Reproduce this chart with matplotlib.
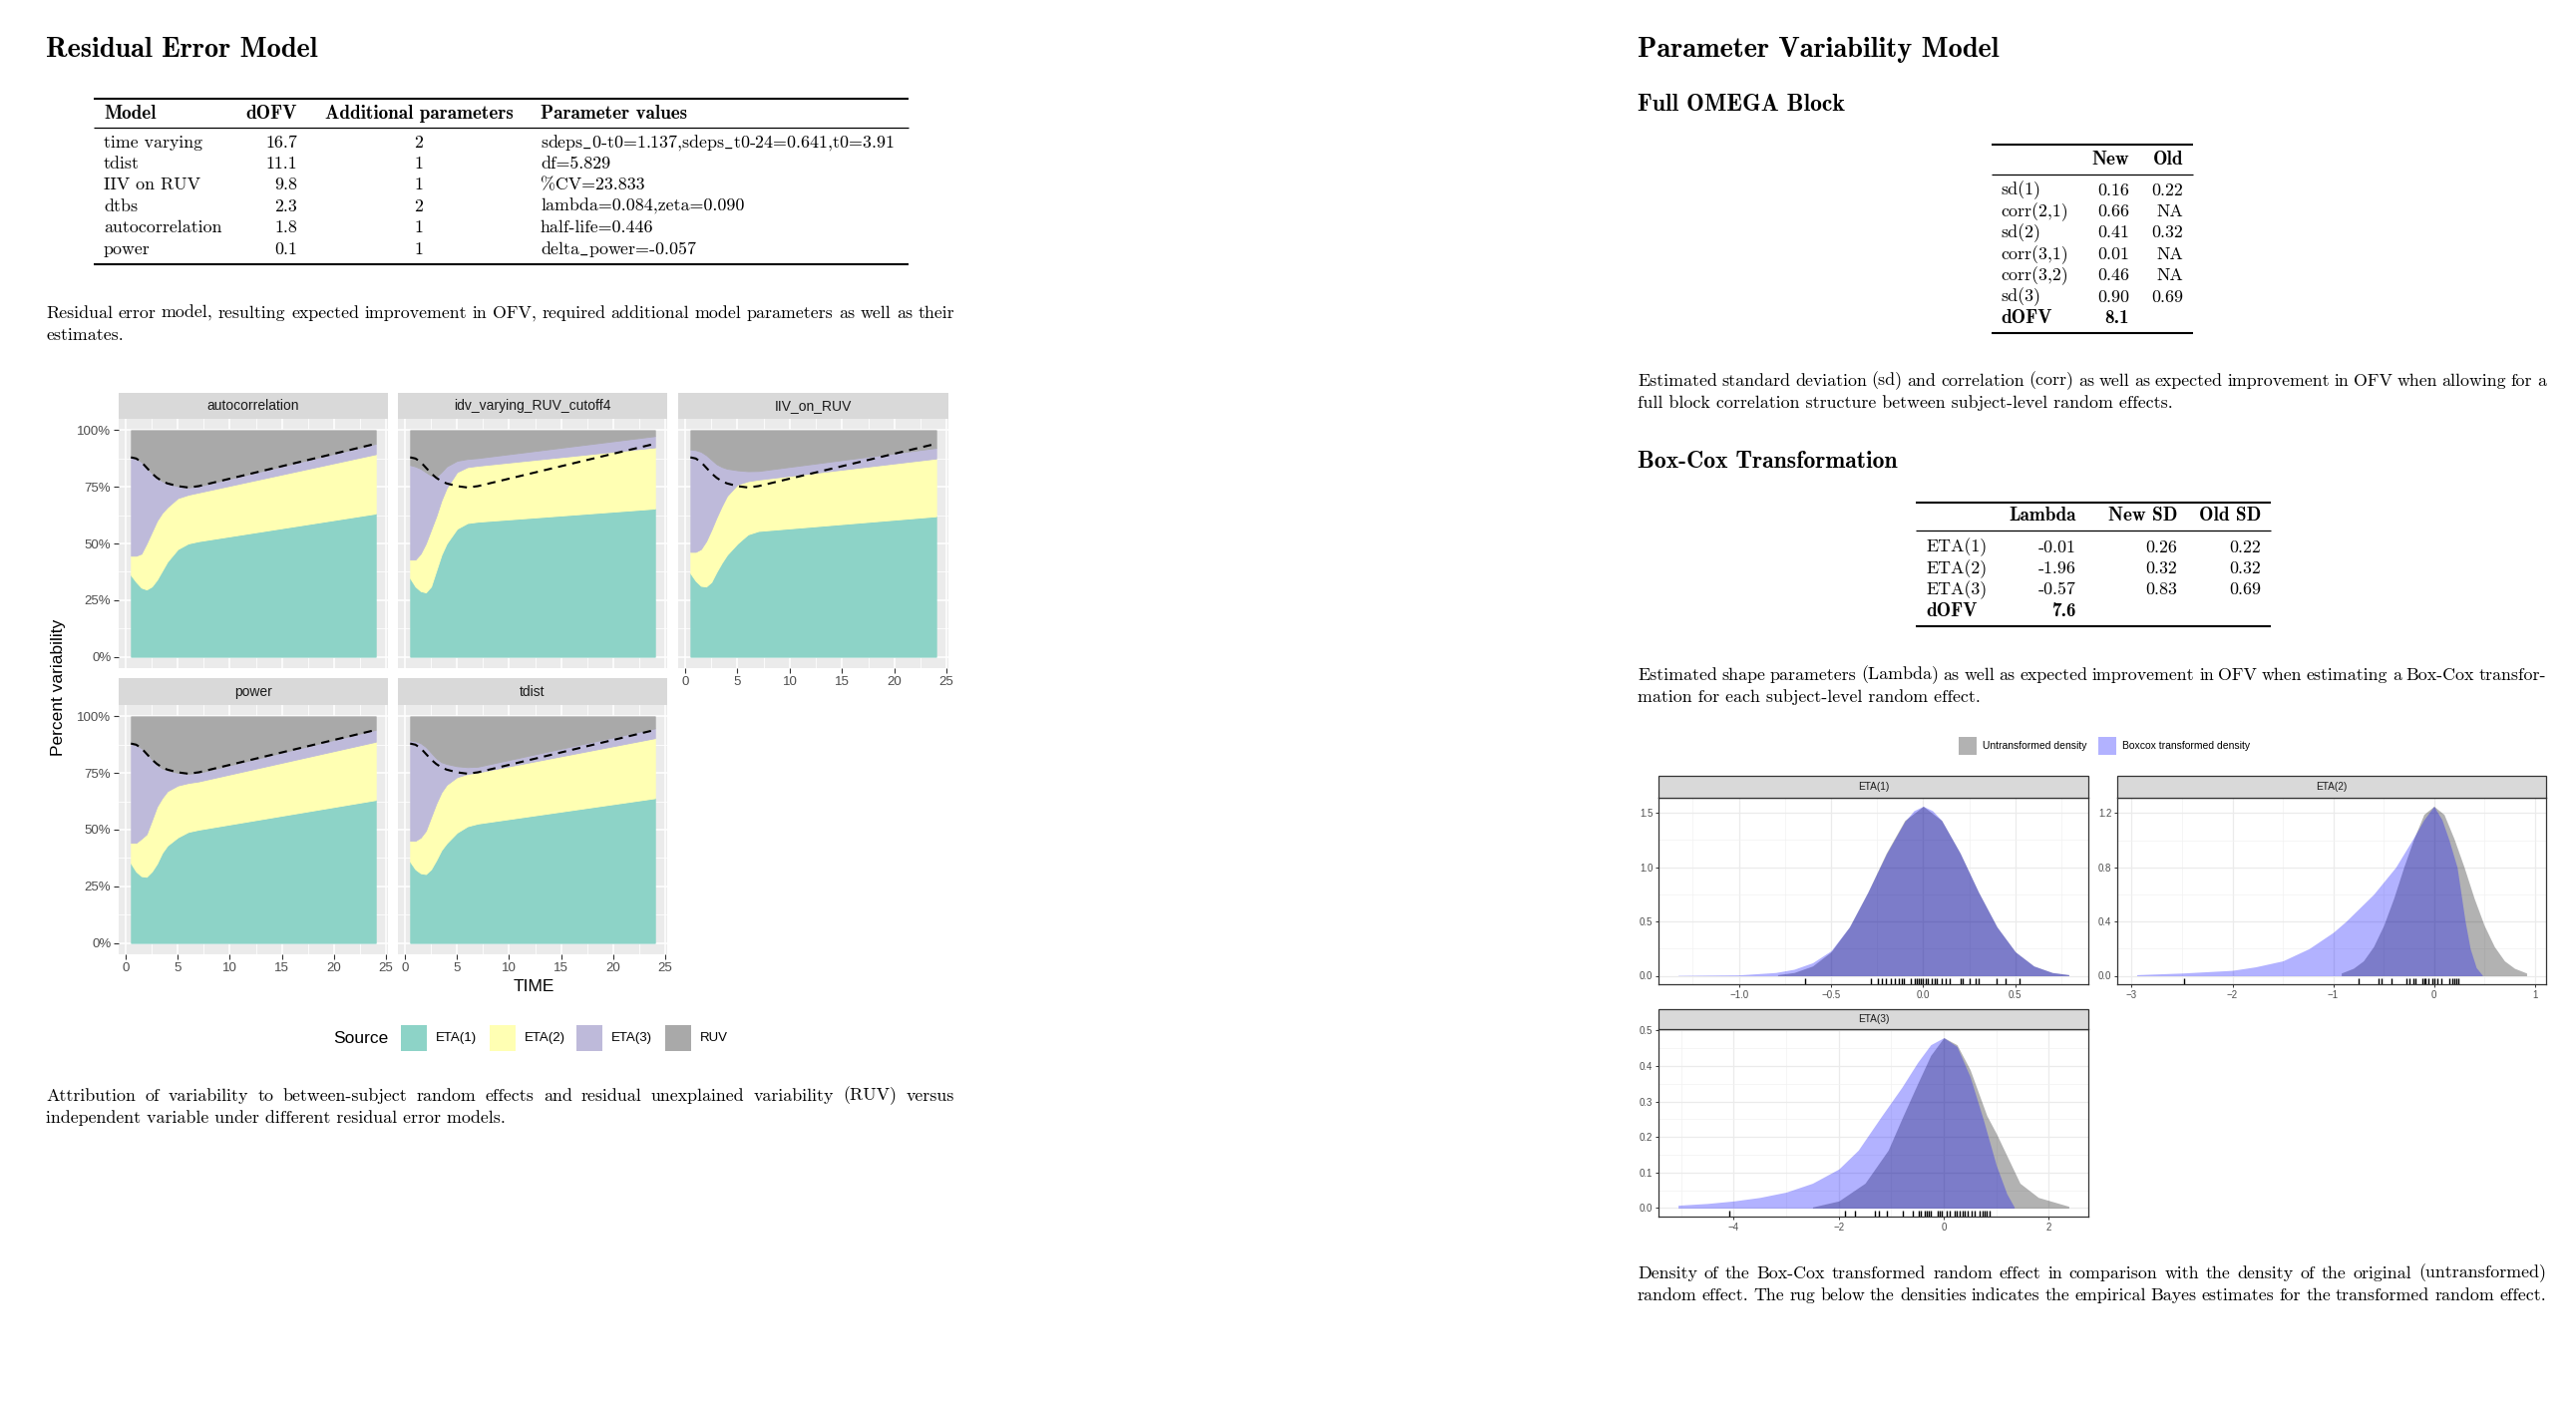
import matplotlib
matplotlib.use("Agg")
import matplotlib.pyplot as plt
import matplotlib.transforms as mtransforms
import numpy as np
from matplotlib.lines import Line2D
from matplotlib.patches import Rectangle

# page-like report: residual error tables/areas on the left, parameter variability on the right
W, H, DPI = 2583, 1424, 100

plt.rcParams["mathtext.fontset"] = "cm"

ROMAN = ["cmr10", "DejaVu Serif"]
BOLD = ["cmb10", "DejaVu Serif"]
SANS = ["Liberation Sans", "DejaVu Sans"]
BODY = 12.9
BODY_BOLD = 13.8

# ---------------- table data ----------------
RESID_MODELS = ["time varying", "tdist", "IIV on RUV", "dtbs", "autocorrelation", "power"]
RESID_DOFV = ["16.7", "11.1", "9.8", "2.3", "1.8", "0.1"]
RESID_NPAR = ["2", "1", "1", "2", "1", "1"]
RESID_VALUES = [
    r"sdeps$\_$0-t0=1.137,sdeps$\_$t0-24=0.641,t0=3.91",
    "df=5.829",
    "%CV=23.833",
    "lambda=0.084,zeta=0.090",
    "half-life=0.446",
    r"delta$\_$power=-0.057",
]

OMEGA_ROWS = ["sd(1)", "corr(2,1)", "sd(2)", "corr(3,1)", "corr(3,2)", "sd(3)"]
OMEGA_NEW = ["0.16", "0.66", "0.41", "0.01", "0.46", "0.90"]
OMEGA_OLD = ["0.22", "NA", "0.32", "NA", "NA", "0.69"]
OMEGA_DOFV = "8.1"

BOXCOX_ETAS = ["ETA(1)", "ETA(2)", "ETA(3)"]
BOXCOX_LAMBDA = ["-0.01", "-1.96", "-0.57"]
BOXCOX_NEW_SD = ["0.26", "0.32", "0.83"]
BOXCOX_OLD_SD = ["0.22", "0.32", "0.69"]
BOXCOX_DOFV = "7.6"

# ---------------- variability attribution (percent, cumulative tops of ETA1, ETA1+2, ETA1+2+3) ----------------
TIME = [0.5, 1, 1.5, 2, 2.5, 3, 3.5, 4, 5, 6, 7, 24]
SOURCES = ["ETA(1)", "ETA(2)", "ETA(3)", "RUV"]

AUTOCORR_ETA1 = [36, 33, 30.5, 29.7, 31, 34, 38, 42, 47.5, 50, 51, 63.2]
AUTOCORR_ETA2 = [44.6, 44.6, 45.5, 50, 55, 60, 63.5, 66, 70, 71.5, 72.5, 89.4]
AUTOCORR_ETA3 = [88, 87.5, 86, 83.5, 81, 79, 77.5, 76.5, 75.3, 74.7, 75.3, 94]

IDV_ETA1 = [34.6, 31, 29, 28.4, 31, 38, 45, 50, 56.5, 59, 59.6, 65.4]
IDV_ETA2 = [42.9, 42.9, 45.5, 50, 56, 62, 69, 74.5, 81.5, 83.7, 84.3, 92.4]
IDV_ETA3 = [84.6, 84, 83, 81.5, 80, 79.4, 81.5, 84, 86.5, 87.3, 87.7, 97.4]

IIV_ETA1 = [36.8, 33.5, 31.3, 31, 33, 37.5, 41.5, 45, 50, 54, 55.5, 62]
IIV_ETA2 = [46.3, 46.3, 47.5, 51, 56, 61.5, 66.5, 71, 76, 77.5, 78.2, 87.5]
IIV_ETA3 = [91.5, 91.2, 90.5, 89, 87, 85, 83.8, 83, 82.3, 81.9, 82, 92.2]

POWER_ETA1 = [35.1, 31.5, 29.5, 29.2, 31.5, 35, 39.8, 43, 46.6, 49, 50, 63.1]
POWER_ETA2 = [44.2, 44.2, 46, 48, 54, 60.2, 64, 67, 69.5, 70.6, 71.3, 88.8]
POWER_ETA3 = [87.9, 87.3, 86, 84, 81, 78.6, 77, 76.2, 75.1, 74.7, 75.1, 94.1]

TDIST_ETA1 = [35.8, 32.5, 30.8, 30.4, 32.5, 36.5, 41, 44, 48.7, 51.5, 52.7, 63.9]
TDIST_ETA2 = [45.1, 45.1, 46.5, 49.5, 55.5, 61.5, 66.5, 69.8, 73.2, 74.6, 75.3, 90.4]
TDIST_ETA3 = [89.4, 89, 88.2, 86.5, 84, 81.5, 79.8, 79, 78, 77.6, 77.8, 94.7]

# total between-subject share of the original model (dashed reference line)
REF_TOTAL = [88, 87.5, 86, 83.5, 81, 79, 77.5, 76.5, 75.3, 74.7, 75.3, 94]

# ---------------- Box-Cox densities ----------------
ETA1_UNTR_X = [-0.79, -0.7, -0.6, -0.5, -0.4, -0.3, -0.2, -0.1, 0.0, 0.1, 0.2, 0.3, 0.4, 0.5, 0.6, 0.7, 0.79]
ETA1_UNTR_Y = [0.01, 0.03, 0.09, 0.22, 0.45, 0.77, 1.13, 1.43, 1.56, 1.43, 1.13, 0.77, 0.45, 0.22, 0.09, 0.03, 0.01]
ETA1_BC_X = [-1.33, -1.0, -0.8, -0.7, -0.6, -0.5, -0.4, -0.3, -0.2, -0.1, -0.05, 0.0, 0.05, 0.1, 0.2, 0.3, 0.4, 0.5, 0.6, 0.7, 0.79]
ETA1_BC_Y = [0.003, 0.008, 0.03, 0.06, 0.12, 0.23, 0.45, 0.77, 1.12, 1.42, 1.52, 1.56, 1.52, 1.43, 1.13, 0.77, 0.45, 0.22, 0.09, 0.03, 0.01]
ETA1_RUG = [-0.64, -0.284, -0.243, -0.225, -0.203, -0.176, -0.156, -0.13, -0.116, -0.103, -0.067, -0.043,
            -0.034, -0.024, -0.013, -0.002, 0.014, 0.024, 0.047, 0.062, 0.076, 0.101, 0.12, 0.143, 0.205,
            0.216, 0.25, 0.286, 0.303, 0.4, 0.446, 0.52]

ETA2_UNTR_X = [-0.92, -0.8, -0.7, -0.6, -0.5, -0.4, -0.3, -0.2, -0.1, 0.0, 0.1, 0.2, 0.3, 0.4, 0.5, 0.6, 0.7, 0.8, 0.92]
ETA2_UNTR_Y = [0.02, 0.055, 0.11, 0.215, 0.37, 0.57, 0.80, 1.01, 1.19, 1.25, 1.19, 1.01, 0.80, 0.57, 0.37, 0.215, 0.11, 0.055, 0.02]
ETA2_BC_X = [-2.95, -2.5, -2.0, -1.77, -1.5, -1.24, -1.0, -0.875, -0.6, -0.38, -0.2, -0.1, 0.0, 0.08, 0.15, 0.23, 0.31, 0.36, 0.42, 0.48]
ETA2_BC_Y = [0.008, 0.02, 0.04, 0.066, 0.11, 0.2, 0.32, 0.4, 0.6, 0.8, 1.02, 1.15, 1.25, 1.15, 1.0, 0.8, 0.4, 0.2, 0.06, 0.005]
ETA2_RUG = [-2.48, -0.743, -0.55, -0.52, -0.42, -0.27, -0.245, -0.206, -0.186, -0.113, -0.096, -0.08,
            -0.053, -0.02, 0.003, 0.036, 0.07, 0.153, 0.18, 0.2, 0.226, 0.245]

ETA3_UNTR_X = [-2.5, -2.0, -1.5, -1.06, -0.78, -0.5, -0.25, 0.0, 0.25, 0.5, 0.82, 1.0, 1.45, 1.8, 2.38]
ETA3_UNTR_Y = [0.003, 0.02, 0.07, 0.163, 0.258, 0.35, 0.43, 0.48, 0.46, 0.39, 0.26, 0.21, 0.07, 0.03, 0.005]
ETA3_BC_X = [-5.06, -4.5, -4.0, -3.5, -3.0, -2.5, -2.0, -1.63, -1.19, -0.8, -0.5, -0.25, 0.0, 0.25, 0.5, 0.75, 1.0, 1.2, 1.34]
ETA3_BC_Y = [0.008, 0.013, 0.02, 0.03, 0.045, 0.07, 0.11, 0.163, 0.258, 0.34, 0.41, 0.46, 0.48, 0.455, 0.37, 0.25, 0.12, 0.04, 0.003]
ETA3_RUG = [-4.09, -1.88, -1.69, -1.31, -1.24, -1.09, -0.785, -0.59, -0.48, -0.43, -0.36, -0.32, -0.285,
            -0.25, -0.11, -0.07, -0.03, 0.057, 0.114, 0.215, 0.25, 0.3, 0.35, 0.4, 0.46, 0.525, 0.59, 0.68,
            0.73, 0.77, 0.82, 0.87]

AREA_COLORS = ["#8DD3C7", "#FFFFB3", "#BEBADA", "#A9A9A9"]


def fx(x):
    return x / W


def fy(y):
    return 1 - y / H


def add_axes_px(fig, x0, y0, x1, y1):
    return fig.add_axes([fx(x0), fy(y1), (x1 - x0) / W, (y1 - y0) / H])


def ptext(fig, x, y, s, bold=False, size=None, ha="left", va="center"):
    if size is None:
        size = BODY_BOLD if bold else BODY
    return fig.text(fx(x), fy(y), s, family=BOLD if bold else ROMAN, fontsize=size, ha=ha, va=va)


def hrule(fig, x0, x1, y, lw):
    fig.add_artist(Line2D([fx(x0), fx(x1)], [fy(y), fy(y)], transform=fig.transFigure,
                          color="black", lw=lw, solid_capstyle="butt"))


def justified(fig, line, x0, x1, y, size=BODY):
    renderer = fig.canvas.get_renderer()
    words = line.split()
    texts = [fig.text(0, fy(y), w, family=ROMAN, fontsize=size, va="center") for w in words]
    widths = [t.get_window_extent(renderer).width for t in texts]
    gap = (x1 - x0 - sum(widths)) / max(len(words) - 1, 1)
    x = x0
    for t, w in zip(texts, widths):
        t.set_x(fx(x))
        x += w + gap


def caption(fig, lines, x0, x1, y0, step=22.5, last_full=False):
    for i, line in enumerate(lines):
        y = y0 + i * step
        if i < len(lines) - 1 or last_full:
            justified(fig, line, x0, x1, y)
        else:
            ptext(fig, x0, y, line)


def strip(fig, x0, x1, y0, y1, label, size, edge=None):
    fig.add_artist(Rectangle((fx(x0), fy(y1)), (x1 - x0) / W, (y1 - y0) / H, transform=fig.transFigure,
                             facecolor="#D9D9D9", edgecolor=edge if edge else "none", lw=0.9))
    fig.text(fx((x0 + x1) / 2), fy((y0 + y1) / 2), label, family=SANS, fontsize=size,
             color="#1A1A1A", ha="center", va="center")


fig = plt.figure(figsize=(W / DPI, H / DPI), dpi=DPI)
fig.patch.set_facecolor("white")

# ======================= LEFT: Residual Error Model =======================
ptext(fig, 46, 50, "Residual Error Model", bold=True, size=20.4)

hrule(fig, 94, 911, 99, 1.5)
hrule(fig, 94, 911, 128, 0.9)
hrule(fig, 94, 911, 265, 1.5)
ptext(fig, 104, 114, "Model", bold=True)
ptext(fig, 298, 114, "dOFV", bold=True, ha="right")
ptext(fig, 420, 114, "Additional parameters", bold=True, ha="center")
ptext(fig, 542, 114, "Parameter values", bold=True)
for i, (m, d, n, v) in enumerate(zip(RESID_MODELS, RESID_DOFV, RESID_NPAR, RESID_VALUES)):
    y = 143 + 21.4 * i
    ptext(fig, 104, y, m)
    ptext(fig, 298, y, d, ha="right")
    ptext(fig, 420, y, n, ha="center")
    ptext(fig, 542, y, v)

caption(fig, ["Residual error model, resulting expected improvement in OFV, required additional model parameters as well as their",
              "estimates."], 46, 957, 314)

# facet panels
FACET_COLS = [(119, 389), (399, 669), (680, 951)]
FACET_ROWS = [(394, 420, 670), (680, 707, 957)]
FACETS = [
    ("autocorrelation", [AUTOCORR_ETA1, AUTOCORR_ETA2, AUTOCORR_ETA3], 0, 0),
    ("idv_varying_RUV_cutoff4", [IDV_ETA1, IDV_ETA2, IDV_ETA3], 0, 1),
    ("IIV_on_RUV", [IIV_ETA1, IIV_ETA2, IIV_ETA3], 0, 2),
    ("power", [POWER_ETA1, POWER_ETA2, POWER_ETA3], 1, 0),
    ("tdist", [TDIST_ETA1, TDIST_ETA2, TDIST_ETA3], 1, 1),
]
x_axis_panels = {"IIV_on_RUV", "power", "tdist"}

for name, tops, r, c in FACETS:
    x0, x1 = FACET_COLS[c]
    s0, p0, p1 = FACET_ROWS[r]
    ax = add_axes_px(fig, x0, p0, x1, p1)
    ax.set_facecolor("#EBEBEB")
    cum = np.vstack([np.zeros(len(TIME)), np.array(tops, dtype=float), np.full(len(TIME), 100.0)])
    shares = np.diff(cum, axis=0)
    polys = ax.stackplot(TIME, shares, colors=AREA_COLORS, labels=SOURCES, zorder=2)
    for p, col in zip(polys, AREA_COLORS):
        p.set_edgecolor(col)
        p.set_linewidth(0.6)
    ax.plot(TIME, REF_TOTAL, color="black", lw=1.5, ls=(0, (4, 3)), zorder=3)

    ax.set_xticks(range(0, 26, 5))
    ax.set_xticks(np.arange(2.5, 25, 5), minor=True)
    ax.set_yticks([0, 25, 50, 75, 100])
    ax.set_yticks([12.5, 37.5, 62.5, 87.5], minor=True)
    ax.set_yticklabels(["0%", "25%", "50%", "75%", "100%"])
    span = TIME[-1] - TIME[0]
    ax.set_xlim(TIME[0] - 0.05 * span, TIME[-1] + 0.05 * span)
    ax.set_ylim(-5, 105)
    ax.set_axisbelow(True)
    ax.grid(which="major", color="white", lw=1.1)
    ax.grid(which="minor", color="white", lw=0.55)
    for sp in ax.spines.values():
        sp.set_visible(False)
    ax.tick_params(which="minor", length=0)
    ax.tick_params(which="major", length=3.5, width=0.8, color="#333333", labelsize=9.5,
                   labelcolor="#4D4D4D", pad=2)
    for lab in ax.get_xticklabels() + ax.get_yticklabels():
        lab.set_family(SANS)
    if c != 0:
        ax.tick_params(axis="y", left=False, labelleft=False)
    if name not in x_axis_panels:
        ax.tick_params(axis="x", bottom=False, labelbottom=False)
    strip(fig, x0, x1, s0, p0, name, 10)

fig.text(fx(59), fy(689), "Percent variability", family=SANS, fontsize=12.5, rotation=90,
         ha="center", va="center", color="black")
fig.text(fx(535), fy(990), "TIME", family=SANS, fontsize=12.5, ha="center", va="center", color="black")

# legend
fig.text(fx(334), fy(1041), "Source", family=SANS, fontsize=12.5, ha="left", va="center")
for bx, lab, col in zip([402, 491, 578, 667], SOURCES, AREA_COLORS):
    fig.add_artist(Rectangle((fx(bx), fy(1054)), 26 / W, 26 / H, transform=fig.transFigure,
                             facecolor=col, edgecolor="none"))
    fig.text(fx(bx + 35), fy(1041), lab, family=SANS, fontsize=9.5, ha="left", va="center")

caption(fig, ["Attribution of variability to between-subject random effects and residual unexplained variability (RUV) versus",
              "independent variable under different residual error models."], 46, 957, 1099)

# ======================= RIGHT: Parameter Variability Model =======================
ptext(fig, 1642, 50, "Parameter Variability Model", bold=True, size=20.4)
ptext(fig, 1642, 105, "Full OMEGA Block", bold=True, size=17.1)

hrule(fig, 1997, 2199, 145, 1.5)
hrule(fig, 1997, 2199, 175, 0.9)
hrule(fig, 1997, 2199, 334, 1.5)
ptext(fig, 2135, 160, "New", bold=True, ha="right")
ptext(fig, 2189, 160, "Old", bold=True, ha="right")
for i, (lab, new, old) in enumerate(zip(OMEGA_ROWS, OMEGA_NEW, OMEGA_OLD)):
    y = 191 + 21.4 * i
    ptext(fig, 2006, y, lab)
    ptext(fig, 2135, y, new, ha="right")
    ptext(fig, 2189, y, old, ha="right")
ptext(fig, 2006, 191 + 21.4 * 6, "dOFV", bold=True)
ptext(fig, 2135, 191 + 21.4 * 6, OMEGA_DOFV, bold=True, ha="right")

caption(fig, ["Estimated standard deviation (sd) and correlation (corr) as well as expected improvement in OFV when allowing for a",
              "full block correlation structure between subject-level random effects."], 1642, 2553, 382)

ptext(fig, 1642, 463, "Box-Cox Transformation", bold=True, size=17.1)
hrule(fig, 1921, 2277, 504, 1.5)
hrule(fig, 1921, 2277, 532, 0.9)
hrule(fig, 1921, 2277, 628, 1.5)
ptext(fig, 2082, 517, "Lambda", bold=True, ha="right")
ptext(fig, 2183, 517, "New SD", bold=True, ha="right")
ptext(fig, 2267, 517, "Old SD", bold=True, ha="right")
for i, (lab, lam, new, old) in enumerate(zip(BOXCOX_ETAS, BOXCOX_LAMBDA, BOXCOX_NEW_SD, BOXCOX_OLD_SD)):
    y = 549 + 21.4 * i
    ptext(fig, 1931, y, lab)
    ptext(fig, 2082, y, lam, ha="right")
    ptext(fig, 2183, y, new, ha="right")
    ptext(fig, 2267, y, old, ha="right")
ptext(fig, 1931, 549 + 21.4 * 3, "dOFV", bold=True)
ptext(fig, 2082, 549 + 21.4 * 3, BOXCOX_DOFV, bold=True, ha="right")

caption(fig, ["Estimated shape parameters (Lambda) as well as expected improvement in OFV when estimating a Box-Cox transfor-",
              "mation for each subject-level random effect."], 1642, 2553, 677)

# density legend
for bx, lab, col in [(1964, "Untransformed density", (0, 0, 0, 0.3)), (2104, "Boxcox transformed density", (0, 0, 1, 0.3))]:
    fig.add_artist(Rectangle((fx(bx), fy(757)), 18 / W, 18 / H, transform=fig.transFigure,
                             facecolor=col, edgecolor="none"))
    fig.text(fx(bx + 24), fy(748), lab, family=SANS, fontsize=7.5, ha="left", va="center", color="black")

DENSITY_PANELS = [
    ("ETA(1)", (1663, 2094, 778, 800, 987), ETA1_UNTR_X, ETA1_UNTR_Y, ETA1_BC_X, ETA1_BC_Y, ETA1_RUG,
     [-1.0, -0.5, 0.0, 0.5], [0, 0.5, 1.0, 1.5], "{:.1f}", "{:.1f}"),
    ("ETA(2)", (2123, 2553, 778, 800, 987), ETA2_UNTR_X, ETA2_UNTR_Y, ETA2_BC_X, ETA2_BC_Y, ETA2_RUG,
     [-3, -2, -1, 0, 1], [0, 0.4, 0.8, 1.2], "{:.0f}", "{:.1f}"),
    ("ETA(3)", (1663, 2094, 1012, 1032, 1220), ETA3_UNTR_X, ETA3_UNTR_Y, ETA3_BC_X, ETA3_BC_Y, ETA3_RUG,
     [-4, -2, 0, 2], [0, 0.1, 0.2, 0.3, 0.4, 0.5], "{:.0f}", "{:.1f}"),
]

for title, (x0, x1, s0, p0, p1), ux, uy, bx_, by, rug, xt, yt, xfmt, yfmt in DENSITY_PANELS:
    ax = add_axes_px(fig, x0, p0, x1, p1)
    ax.fill_between(ux, uy, color="black", alpha=0.3, lw=0, zorder=2)
    ax.fill_between(bx_, by, color="blue", alpha=0.3, lw=0, zorder=3)
    trans = mtransforms.blended_transform_factory(ax.transData, ax.transAxes)
    ax.vlines(rug, 0, 0.03, transform=trans, color="black", lw=1.0, zorder=4)

    ax.set_xticks(xt)
    ax.set_xticklabels([xfmt.format(v).replace("-", "\u2212") for v in xt])
    xstep = xt[1] - xt[0]
    ax.set_xticks(np.arange(xt[0] - xstep / 2, xt[-1] + xstep, xstep), minor=True)
    ax.set_yticks(yt)
    ax.set_yticklabels([yfmt.format(v) for v in yt])
    ystep = yt[1] - yt[0]
    ax.set_yticks(np.arange(yt[0] + ystep / 2, yt[-1] + ystep, ystep), minor=True)

    # ggplot-style 5% expansion, applied after the ticks so they cannot widen the view
    allx = np.concatenate([ux, bx_])
    lo, hi = allx.min(), allx.max()
    ax.set_xlim(lo - 0.05 * (hi - lo), hi + 0.05 * (hi - lo))
    ymax = max(max(uy), max(by))
    ax.set_ylim(-0.05 * ymax, 1.05 * ymax)

    ax.set_axisbelow(True)
    ax.grid(which="major", color="#EBEBEB", lw=0.9)
    ax.grid(which="minor", color="#F2F2F2", lw=0.5)
    for sp in ax.spines.values():
        sp.set_color("#333333")
        sp.set_linewidth(0.9)
    ax.tick_params(which="minor", length=0)
    ax.tick_params(which="major", length=2.5, width=0.7, color="#333333", labelsize=7,
                   labelcolor="#4D4D4D", pad=1.5)
    for lab in ax.get_xticklabels() + ax.get_yticklabels():
        lab.set_family(SANS)
    strip(fig, x0, x1, s0, p0, title, 7.3, edge="#333333")

caption(fig, ["Density of the Box-Cox transformed random effect in comparison with the density of the original (untransformed)",
              "random effect. The rug below the densities indicates the empirical Bayes estimates for the transformed random effect."],
        1642, 2553, 1277, last_full=True)

fig.savefig("out.png", dpi=DPI, facecolor="white")
